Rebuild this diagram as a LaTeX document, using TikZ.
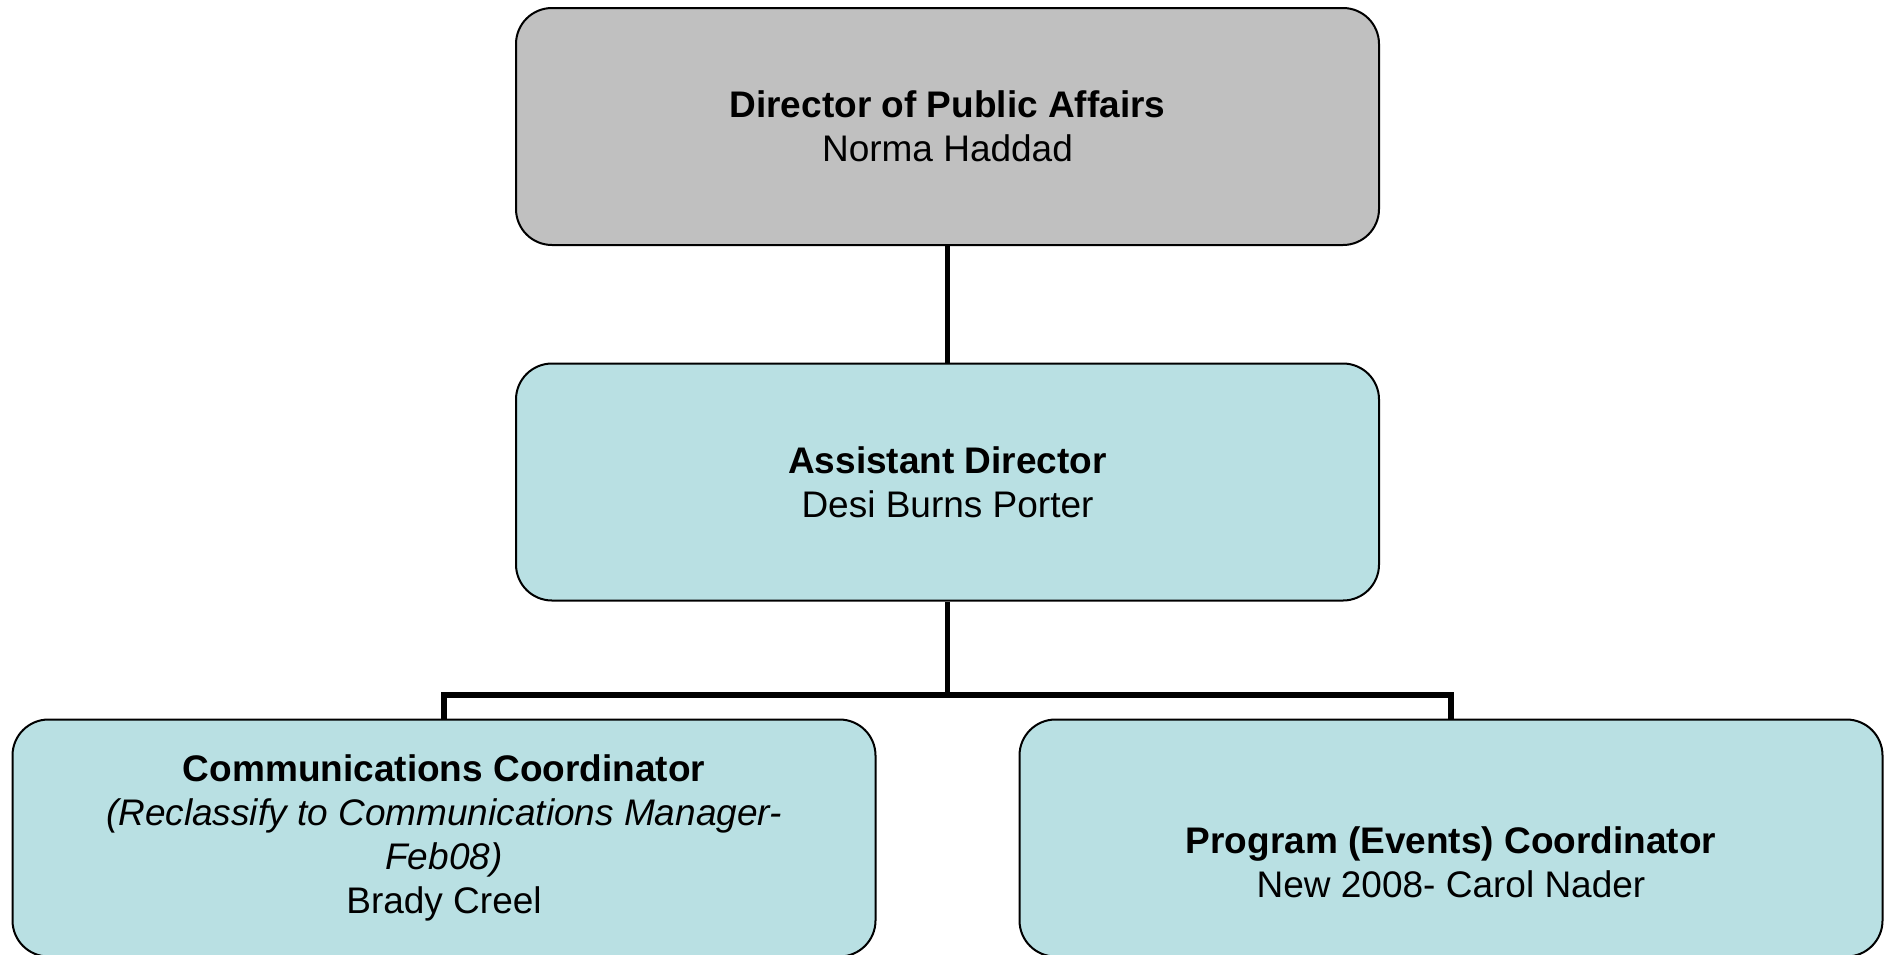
\documentclass[tikz,border=0pt]{standalone}
\usepackage{fontspec}
\setmainfont{Liberation Sans}
\definecolor{boxgray}{HTML}{C0C0C0}
\definecolor{boxblue}{HTML}{B9E0E3}
\tikzset{
  post/.style={draw=black, line width=1pt, rounded corners=18pt,
    minimum width=431.5pt, minimum height=118.5pt, align=center,
    font=\fontsize{18.5pt}{22pt}\selectfont},
  link/.style={line width=2.6pt}
}
\begin{document}
\begin{tikzpicture}[x=0.5pt,y=-0.5pt]
      \useasboundingbox (0,0) rectangle (1889,954);
      \clip (0,0) rectangle (1889,954);
      \node[post, fill=boxgray] (dir) at (947.5,126.5)
        {\textbf{Director of Public Affairs}\\Norma Haddad};
      \node[post, fill=boxblue] (asst) at (947.5,482)
        {\textbf{Assistant Director}\\Desi Burns Porter};
      \node[post, fill=boxblue] (comm) at (444,838)
        {\textbf{Communications Coordinator}\\\textit{(Reclassify to Communications Manager-}\\\textit{Feb08)}\\Brady Creel};
      \node[post, fill=boxblue] (prog) at (1451,838)
        {\strut\\\textbf{Program (Events) Coordinator}\\New 2008- Carol Nader};
      \coordinate (bar) at (947.5,695);
      \begin{scope}[link]
        \draw (dir) -- (asst);
        \draw (asst) -- (bar);
        \draw (comm.north) |- (bar) -| (prog.north);
      \end{scope}
    \end{tikzpicture}
\end{document}
